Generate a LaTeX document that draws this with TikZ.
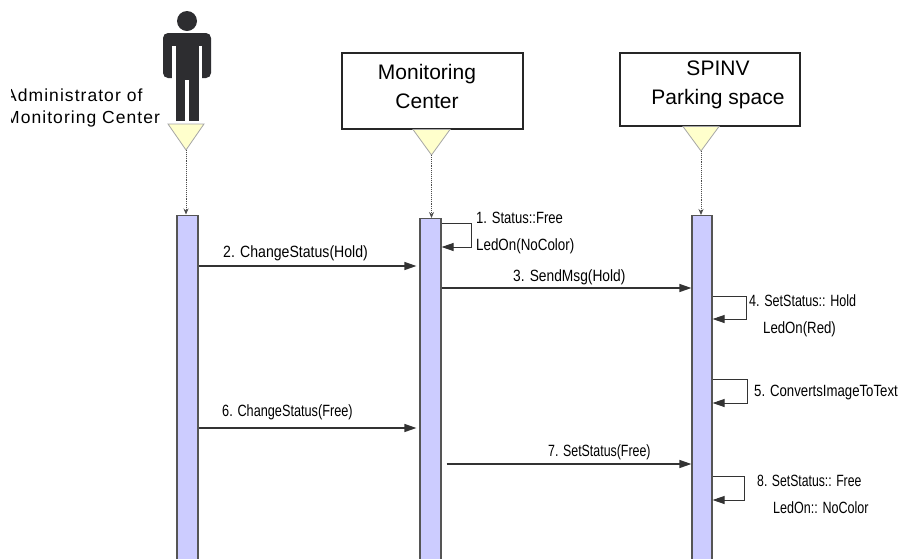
\documentclass[tikz,border=0pt]{standalone}
\usepackage{fontspec}
\usepackage{graphicx}
\setmainfont{Liberation Sans}
\newfontfamily\actfont[LetterSpace=6]{Liberation Sans}
\newcommand\hsq[2]{\scalebox{#1}[1]{#2}}
\usetikzlibrary{arrows.meta,calc}
\definecolor{barfill}{HTML}{CCCCFF}
\definecolor{trifill}{HTML}{FFFFCC}
\definecolor{actorc}{HTML}{2D2D30}
\definecolor{edgec}{HTML}{555555}
\begin{document}
\begin{tikzpicture}[x=1pt,y=-1pt,
 bar/.style={draw=edgec, fill=barfill, line width=1.2pt, minimum width=21pt, minimum height=345pt, inner sep=0pt, anchor=north},
 hdr/.style={draw=black!85, line width=1.4pt, fill=white, inner sep=0pt},
 hdrtxt/.style={align=center, font=\fontsize{21}{29}\selectfont, inner sep=0pt},
 tri/.style={fill=trifill, draw=gray!70, line width=0.8pt},
 life/.style={densely dotted, draw=gray!60!black, line width=0.9pt, -{Stealth[length=6pt,width=5pt]}},
 msg/.style={draw=black!80, line width=1.2pt, -{Triangle[length=12pt,width=8pt]}},
 loopmsg/.style={draw=black!80, line width=1pt, -{Triangle[length=12pt,width=8pt]}},
 lbl/.style={font=\fontsize{16.3}{26}\selectfont, inner sep=0pt, text height=12pt, text depth=3.7pt, anchor=west},
 actlbl/.style={font=\actfont\fontsize{17.5}{22}\selectfont, inner sep=0pt, align=left, anchor=west},
]
\useasboundingbox[fill=white] (0,0) rectangle (898,558);

% actor figure
\fill[actorc] (187,21) circle (10);
\fill[actorc, rounded corners=5pt] (163,33) rectangle (211,78);
\fill[white] (172,46) rectangle (175.5,80);
\fill[white] (198.5,46) rectangle (202,80);
\fill[actorc] (175.5,76) rectangle (198.5,121);
\fill[white] (185,80) rectangle (189,122);
\begin{scope}
\clip (11,80) rectangle (168,135);
\node[actlbl] (admin) at (5,108) {Administrator of\\Monitoring Center};
\end{scope}

% headers
\node[hdr, minimum width=181pt, minimum height=76pt] (mcbox) at (432.5,91) {};
\node[hdrtxt] (mctxt) at (427,86) {Monitoring\\Center};
\node[hdr, minimum width=180pt, minimum height=73pt] (spbox) at (710,89.5) {};
\node[hdrtxt] (sptxt) at (718,85) {SPINV\\Parking space};

% lifeline triangles
\coordinate (apex1) at (186,150);
\coordinate (apex2) at (431.5,155);
\coordinate (apex3) at (701,151);
\draw[tri] (168,124) -- (204,124) -- (apex1) -- cycle;
\draw[tri] (413,129.5) -- (450,129.5) -- (apex2) -- cycle;
\draw[tri] (683,126.5) -- (719,126.5) -- (apex3) -- cycle;

% activation bars
\node[bar] (bar1) at (187.5,214.5) {};
\node[bar] (bar2) at (430.5,218) {};
\node[bar, minimum width=20pt] (bar3) at (702,215) {};

\draw[life] (apex1) -- (apex1 |- bar1.north);
\draw[life] (apex2) -- (apex2 |- bar2.north);
\draw[life] (apex3) -- (apex3 |- bar3.north);

% messages
\draw[loopmsg] (bar2.east |- 0,223) -| (471,247) -- (bar2.east |- 0,247);
\node[lbl] (m1a) at (476,219) {\hsq{0.80}{1. Status::Free}};
\node[lbl] (m1b) at (476,246) {\hsq{0.82}{LedOn(NoColor)}};

\draw[msg, shorten >=3pt] (bar1.east |- 0,266) -- (bar2.west |- 0,266);
\node[lbl] (m2) at (223,253) {\hsq{0.865}{2. ChangeStatus(Hold)}};

\draw[msg] (bar2.east |- 0,288) -- (bar3.west |- 0,288);
\node[lbl] (m3) at (513,277) {\hsq{0.845}{3. SendMsg(Hold)}};

\draw[loopmsg] (bar3.east |- 0,296) -| (746,319) -- (bar3.east |- 0,319);
\node[lbl] (m4a) at (749,302) {\hsq{0.77}{4. SetStatus:: Hold}};
\node[lbl] (m4b) at (763,329) {\hsq{0.81}{LedOn(Red)}};

\draw[loopmsg] (bar3.east |- 0,379) -| (747,403) -- (bar3.east |- 0,403);
\node[lbl] (m5) at (754,392) {\hsq{0.81}{5. ConvertsImageToText}};

\draw[msg, shorten >=3pt] (bar1.east |- 0,428) -- (bar2.west |- 0,428);
\node[lbl] (m6) at (222,412) {\hsq{0.78}{6. ChangeStatus(Free)}};

\draw[msg, shorten <=5pt] (bar2.east |- 0,464) -- (bar3.west |- 0,464);
\node[lbl] (m7) at (548,452) {\hsq{0.76}{7. SetStatus(Free)}};

\draw[loopmsg] (bar3.east |- 0,476) -| (744,500) -- (bar3.east |- 0,500);
\node[lbl] (m8a) at (757,482) {\hsq{0.75}{8. SetStatus:: Free}};
\node[lbl] (m8b) at (773,509) {\hsq{0.77}{LedOn:: NoColor}};
\end{tikzpicture}
\end{document}
